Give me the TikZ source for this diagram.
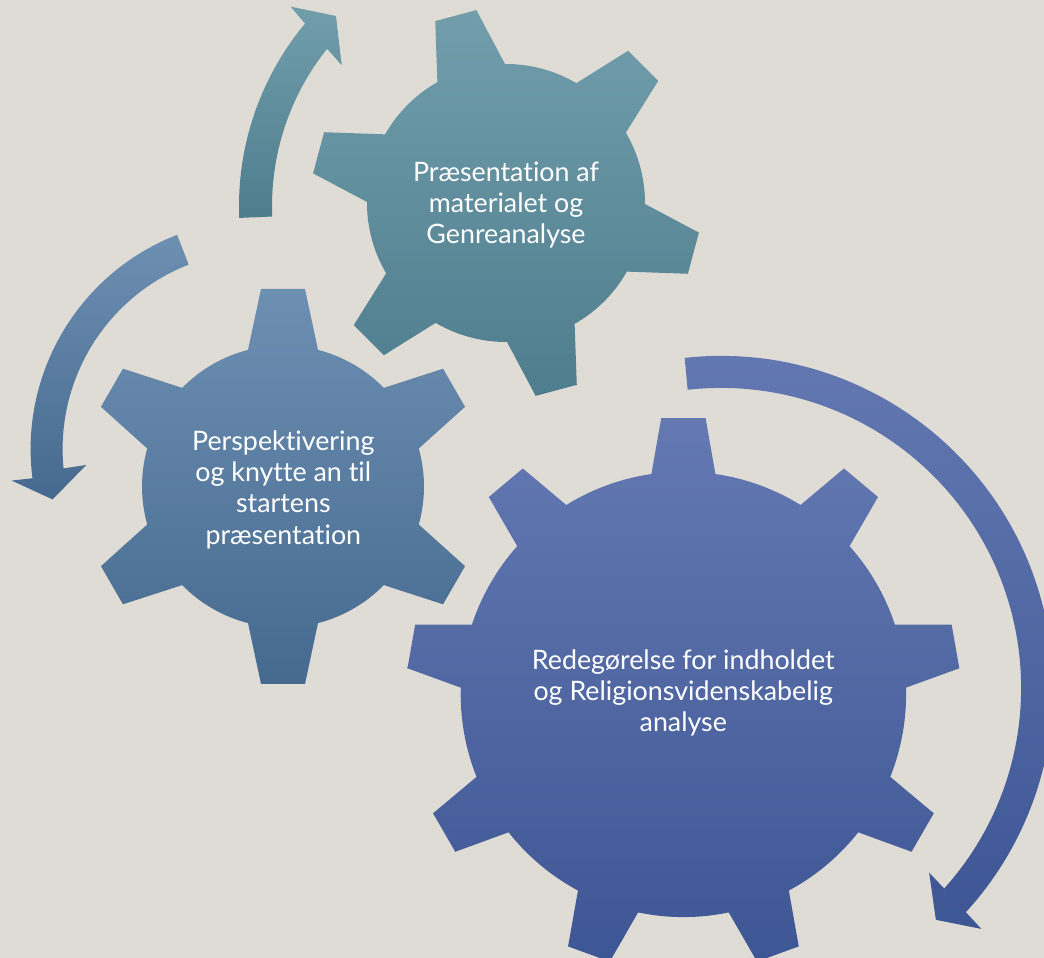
\documentclass[tikz,border=0pt]{standalone}
\usepackage{fontspec}
\setmainfont{Lato}[Ligatures={NoCommon}]
\definecolor{bgc}{RGB}{223,220,213}
\definecolor{tealT}{RGB}{114,158,172}
\definecolor{tealB}{RGB}{78,125,141}
\definecolor{steelT}{RGB}{108,143,178}
\definecolor{steelB}{RGB}{70,106,143}
\definecolor{blueT}{RGB}{100,121,178}
\definecolor{blueB}{RGB}{61,86,148}
\tikzset{
  tealfill/.style={top color=tealT, bottom color=tealB},
  steelfill/.style={top color=steelT, bottom color=steelB},
  bluefill/.style={top color=blueT, bottom color=blueB},
  lbl/.style={text=white, align=center, inner sep=0pt,
    font=\fontsize{26.8}{31.3}\selectfont}
}
% #1 cx, #2 cy, #3 outer R, #4 body r, #5 outer half width, #6 base half width,
% #7 first tooth angle, #8 number of teeth, #9 style
\newcommand{\drawgear}[9]{%
  \pgfmathsetmacro{\gstep}{360/#8}%
  \pgfmathsetmacro{\gdo}{atan(#5/#3)}%
  \pgfmathsetmacro{\gRo}{#3/cos(\gdo)}%
  \pgfmathsetmacro{\gdb}{asin(#6/#4)}%
  \pgfmathtruncatemacro{\gn}{#8-1}%
  \begin{scope}[shift={(#1,#2)}]
    \shade[#9] (#7-\gdb:#4)
      \foreach \k [evaluate=\k as \a using {#7+\k*\gstep}] in {0,...,\gn} {
        -- (\a-\gdo:\gRo) -- (\a+\gdo:\gRo) -- (\a+\gdb:#4)
        arc[start angle=\a+\gdb, end angle=\a+\gstep-\gdb, radius=#4pt]
      } -- cycle;
  \end{scope}%
}
\begin{document}
\begin{tikzpicture}[x=1pt,y=1pt]
  \fill[bgc] (0,0) rectangle (1044,958);
  \useasboundingbox (0,0) rectangle (1044,958);
  % gears
  \drawgear{683.4}{263.6}{276.3}{222.7}{22.2}{32}{90}{9}{bluefill}
  \drawgear{506}{755}{194}{139}{21.3}{35}{105}{6}{tealfill}
  \drawgear{283}{471.5}{197.5}{141}{22}{35}{90}{6}{steelfill}
  % arrow 1 (teal, around top gear)
  \begin{scope}[shift={(524,752)}]
    \shade[tealfill] (182.4:285) arc[start angle=182.4, end angle=140.2, radius=285pt]
      -- (139.5:307) -- (134.7:267.3) -- (142.3:230.5) -- (141.4:252)
      arc[start angle=141.4, end angle=182.4, radius=252pt] -- cycle;
  \end{scope}
  % arrow 2 (steel, around left gear)
  \begin{scope}[shift={(260.6,508.9)}]
    \shade[steelfill] (111.3:230) arc[start angle=111.3, end angle=187.3, radius=230pt]
      -- (187.2:251) -- (193.6:214) -- (185.2:175) -- (185.6:198)
      arc[start angle=185.6, end angle=111.3, radius=198pt] -- cycle;
  \end{scope}
  % arrow 3 (blue, around big gear)
  \begin{scope}[shift={(721.1,270.1)}]
    \shade[bluefill] (96.3:332) arc[start angle=96.3, end angle=-42.5, radius=332pt]
      -- (-42.8:354.7) -- (-47.2:316.1) -- (-41.6:278.2) -- (-41.96:300)
      arc[start angle=-41.96, end angle=96.4, radius=300pt] -- cycle;
  \end{scope}
  % texts
  \node[lbl] (t1) at (506,753) {Præsentation af\\materialet og\\Genreanalyse};
  \node[lbl] (t2) at (283.3,468.5) {Perspektivering\\og knytte an til\\startens\\præsentation};
  \node[lbl] (t3) at (683.3,265.1) {Redegørelse for indholdet\\og Religionsvidenskabelig\\analyse};
\end{tikzpicture}
\end{document}
